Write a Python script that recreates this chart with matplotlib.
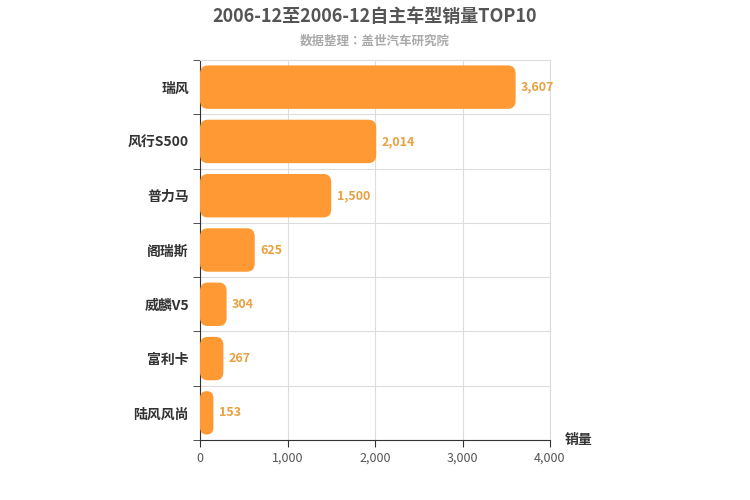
import matplotlib
matplotlib.use("Agg")
import matplotlib.pyplot as plt
from matplotlib import font_manager as fm
from matplotlib.patches import FancyBboxPatch
import glob

fam = "Noto Sans CJK SC"
for f in fm.findSystemFonts():
    if "CJK" in f or "cjk" in f.lower():
        try:
            fm.fontManager.addfont(f)
        except Exception:
            pass
names = sorted({f.name for f in fm.fontManager.ttflist if "CJK" in f.name})
if names and fam not in names:
    fam = next((n for n in names if "SC" in n), names[0])
plt.rcParams['font.family'] = [fam, 'DejaVu Sans']

categories = ["瑞风", "风行S500", "普力马", "阁瑞斯", "威麟V5", "富利卡", "陆风风尚"]
values = [3607, 2014, 1500, 625, 304, 267, 153]
xticks = [0, 1000, 2000, 3000, 4000]
xtick_labels = ["0", "1,000", "2,000", "3,000", "4,000"]

fig = plt.figure(figsize=(7.5, 5), dpi=100)
ax = fig.add_axes([200/750, 60/500, 350/750, 380/500])
n = len(categories)
ax.set_xlim(0, 4000)
ax.set_ylim(n - 0.5, -0.5)
h = 0.8
for i, v in enumerate(values):
    r = min(90, v / 2)
    p = FancyBboxPatch((0, i - h/2), v, h,
                       boxstyle="round,pad=0,rounding_size=%f" % r,
                       mutation_aspect=0.15/90, fc="#ff9933", ec="none", zorder=3)
    ax.add_patch(p)
    ax.text(v + 60, i, f"{v:,}", va="center", ha="left", fontsize=9,
            color="#e8a040", fontweight="bold", zorder=4)
ax.set_yticks(range(n))
ax.set_yticklabels(categories, fontsize=10, fontweight="bold", color="#333333")
ax.set_yticks([i + 0.5 for i in range(-1, n)], minor=True)
ax.set_xticks(xticks)
ax.set_xticklabels(xtick_labels, fontsize=9, color="#555555")
ax.grid(True, axis="x", color="#dddddd", zorder=0)
ax.grid(True, axis="y", which="minor", color="#dddddd", zorder=0)
ax.tick_params(axis="y", which="major", length=0, pad=8)
ax.tick_params(axis="y", which="minor", length=5, color="#333333")
ax.tick_params(axis="x", length=5, color="#333333")
for s in ["top", "right"]:
    ax.spines[s].set_color("#dddddd")
ax.spines["left"].set_color("#333333")
ax.spines["bottom"].set_color("#333333")
fig.text(0.5, 0.968, "2006-12至2006-12自主车型销量TOP10", ha="center", va="center",
         fontsize=13, fontweight="bold", color="#555555")
fig.text(0.5, 0.918, "数据整理：盖世汽车研究院", ha="center", va="center",
         fontsize=9, color="#aaaaaa", fontweight="bold")
fig.text(565/750, 1 - 440/500, "销量", ha="left", va="center", fontsize=10,
         fontweight="bold", color="#333333")
fig.savefig("out.png", dpi=100)
